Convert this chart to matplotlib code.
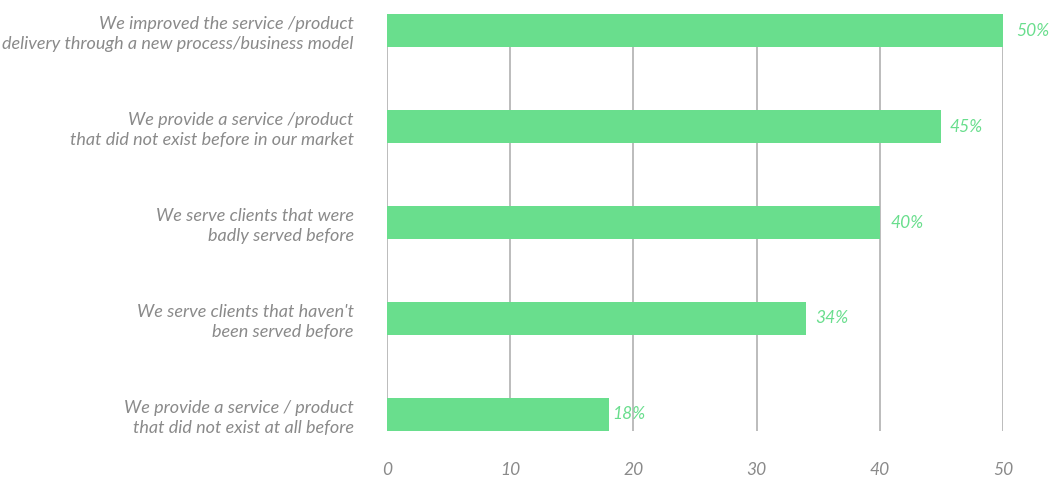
import matplotlib.pyplot as plt

# data
categories = [
    "We improved the service /product\ndelivery through a new process/business model",
    "We provide a service /product\nthat did not exist before in our market",
    "We serve clients that were\nbadly served before",
    "We serve clients that haven't\nbeen served before",
    "We provide a service / product\nthat did not exist at all before",
]
values = [50, 45, 40, 34, 18]
value_labels = ["50%", "45%", "40%", "34%", "18%"]
xticks = [0, 10, 20, 30, 40, 50]

bar_color = "#69de8d"
text_gray = "#8a8a8a"
label_pad = [13, 8, 11, 9, 3]  # pixels between bar end and value label

plt.rcParams["font.family"] = ["Lato", "DejaVu Sans"]

fig = plt.figure(figsize=(10.58, 4.82), dpi=100)
ax = fig.add_axes([387 / 1058, 1 - 431 / 482, (1003 - 387) / 1058, 417 / 482])

h = 0.344
ypos = list(range(len(categories)))
ax.barh(ypos, values, height=h, color=bar_color, zorder=3)

for y, v, lab, p in zip(ypos, values, value_labels, label_pad):
    ax.annotate(lab, (v, y), xytext=(p * 0.72, 0), textcoords="offset points",
                ha="left", va="center", color=bar_color, fontsize=12.5, style="italic")

ax.set_xlim(0, 50)
ax.set_ylim(len(categories) - 1 + h / 2, -h / 2)
ax.set_xticks(xticks)
ax.set_xticklabels([str(t) for t in xticks])
ax.set_yticks(ypos)
ax.set_yticklabels(categories)

ax.grid(axis="x", color="#b0b0b0", linewidth=1.2, zorder=0)
ax.grid(axis="y", visible=False)
for s in ax.spines.values():
    s.set_visible(False)

ax.tick_params(axis="x", length=0, pad=22, labelsize=12.5, labelcolor=text_gray)
ax.tick_params(axis="y", length=0, pad=24, labelsize=13, labelcolor=text_gray)
for t in ax.get_xticklabels() + ax.get_yticklabels():
    t.set_style("italic")
for t in ax.get_yticklabels():
    t.set_linespacing(1.3)

fig.savefig("out.png", dpi=100)
